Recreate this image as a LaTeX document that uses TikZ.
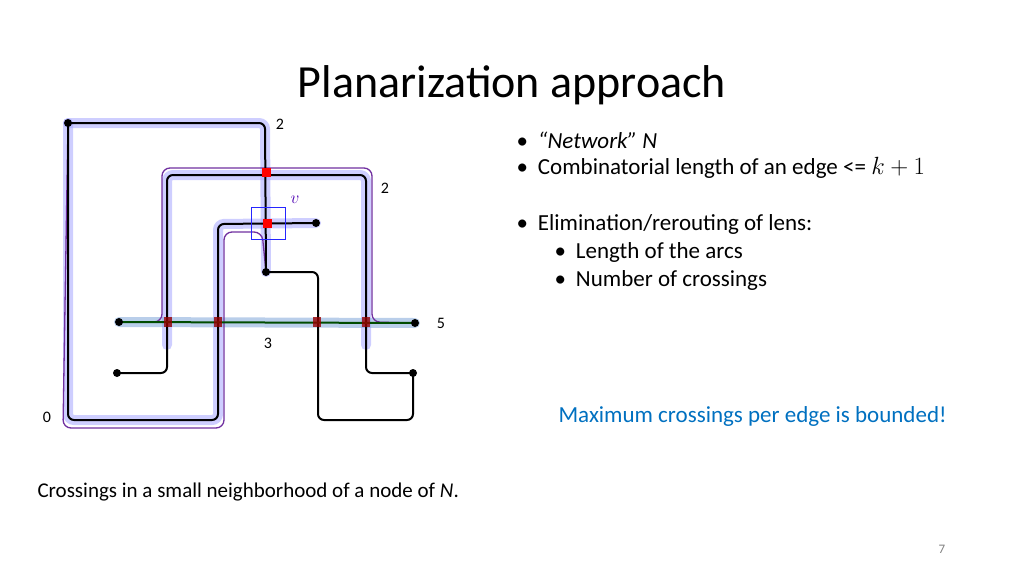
\documentclass[tikz,border=0pt]{standalone}
\usepackage{fontspec}
\setmainfont{Carlito}
\definecolor{lensblue}{RGB}{0,112,192}
\definecolor{lenspurple}{RGB}{112,48,160}
\tikzset{
  glow/.style={line width=10pt, blue!35, opacity=0.55, line cap=round, rounded corners=6pt},
  arc/.style={line width=2pt, black, rounded corners=6pt},
  lens/.style={line width=1.3pt, lenspurple, rounded corners=8pt},
  dot/.style={circle, inner sep=0pt, minimum size=8pt},
  cross/.style={rectangle, fill=red, inner sep=0pt, minimum size=9pt},
  xbar/.style={rectangle, fill=red!60!black, opacity=0.8, inner sep=0pt, minimum width=8pt, minimum height=10pt},
  num/.style={font=\fontsize{16}{18}\selectfont},
  txt/.style={anchor=west, font=\fontsize{23}{27}\selectfont}
}
\begin{document}
\begin{tikzpicture}[x=1pt,y=-1pt]
  \useasboundingbox (0,0) rectangle (1024,576);
  \node[font=\fontsize{46}{50}\selectfont] (title) at (512,85) {Planarization approach};

  % nodes of the network
  \node[dot] (a) at (68,123) {};
  \node[dot] (b) at (266,272) {};
  \node[dot] (c) at (316,223) {};
  \node[dot] (d) at (117,373) {};
  \node[dot] (e) at (413,373) {};
  \node[dot] (h1) at (119,322) {};
  \node[dot] (h2) at (415,323) {};

  % glow
  \draw[glow] (a.center) -- (265,123) -- (b.center);
  \draw[glow] (a.center) -- (68,420) -- (218,420) -- (218,224) -- (c.center);
  \draw[glow] (167,345) -- (167,175) -- (366,175) -- (366,345);
  \draw[glow, green!30!blue!50] (h1.center) -- (h2.center);

  % lenses
  \draw[lens] (a.center) -- (63,428) -- (224,428) -- (224,232) -- (262,232) -- (b.center);
  \draw[lens] (h1.center) -- (162,322) -- (162,168) -- (372,168) -- (372,322) -- (h2.center);

  % arcs
  \draw[arc] (a.center) -- (265,123) -- (b.center);
  \draw[arc] (b.center) -- (318,272) -- (318,420) -- (413,420) -- (e.center);
  \draw[arc] (a.center) -- (68,420) -- (218,420) -- (218,224) -- (c.center);
  \draw[arc] (d.center) -- (167,373) -- (167,175) -- (366,175) -- (366,373) -- (e.center);
  \draw[line width=2pt, black!70!green] (h1.center) -- (h2.center);
  \foreach \n in {a,b,c,d,e,h1,h2}
    \fill (\n) circle (4pt);

  % crossings
  \node[cross] (x1) at (266,172) {};
  \node[cross] (x2) at (267,223) {};
  \foreach \xc/\nm in {168/y1, 218/y2, 317/y3, 366/y4}
    \node[xbar] (\nm) at (\xc,322) {};
  \node[draw=blue!85, thick, minimum width=34pt, minimum height=32pt, inner sep=0pt] (box) at (268,223) {};
  \node[text=blue!60!purple, font=\fontsize{17}{19}\selectfont] (v) at (295,200) {$v$};

  % weights
  \node[num] (w1) at (280,124) {2};
  \node[num] (w2) at (385,188) {2};
  \node[num] (w3) at (441,323) {5};
  \node[num] (w4) at (268,343) {3};
  \node[num] (w5) at (47,417) {0};

  % text
  \node[txt] (t1) at (513,140) {\textbullet\hspace{10pt}\textit{“Network” N}};
  \node[txt] (t2) at (513,168) {\textbullet\hspace{10pt}Combinatorial length of an edge <= $k+1$};
  \node[txt] (t3) at (513,224) {\textbullet\hspace{10pt}Elimination/rerouting of lens:};
  \node[txt] (t4) at (551,252) {\textbullet\hspace{10pt}Length of the arcs};
  \node[txt] (t5) at (551,280) {\textbullet\hspace{10pt}Number of crossings};
  \node[anchor=west, text=lensblue, font=\fontsize{23}{27}\selectfont] (t6) at (555,416) {Maximum crossings per edge is bounded!};
  \node[anchor=west, font=\fontsize{21}{24}\selectfont] (cap) at (34,492) {Crossings in a small neighborhood of a node of \textit{N}.};
  \node[text=gray, font=\fontsize{13}{15}\selectfont] (pg) at (942,549) {7};
\end{tikzpicture}
\end{document}
